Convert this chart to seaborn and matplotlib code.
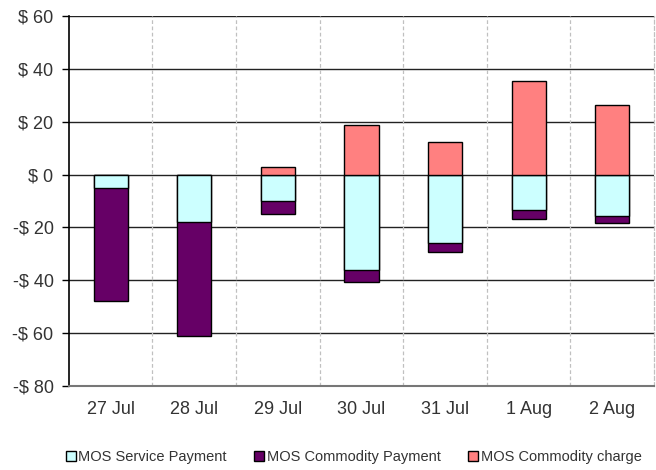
import numpy as np
import pandas as pd
import matplotlib
matplotlib.use('Agg')
import matplotlib.pyplot as plt
import seaborn as sns

# ---------------  Data  ------------
days = ['27 Jul', '28 Jul', '29 Jul', '30 Jul', '31 Jul', '1 Aug', '2 Aug']
service_payment = [-5.0, -18.0, -10.0, -36.0, -26.0, -13.5, -15.7]
commodity_payment = [-42.7, -43.0, -5.0, -4.5, -3.2, -3.2, -2.7]
commodity_charge = [0.0, 0.0, 2.8, 18.8, 12.3, 35.5, 26.3]

df = pd.DataFrame({'day': days,
                   'service': service_payment,
                   'commodity': commodity_payment,
                   'charge': commodity_charge})
# payment stacks below the service bar, so draw the total first
df['payment_total'] = df['service'] + df['commodity']

c_service = '#CCFFFF'
c_payment = '#660066'
c_charge = '#FF8080'

sns.set_style('white')
plt.rcParams['font.family'] = ['Liberation Sans', 'DejaVu Sans']

fig, ax = plt.subplots(figsize=(6.56, 4.70), dpi=100)
fig.subplots_adjust(left=0.105, right=0.997, top=0.966, bottom=0.179)

bar_kw = dict(width=0.41, edgecolor='black', linewidth=1.0, ax=ax, order=days,
              saturation=1)
sns.barplot(data=df, x='day', y='payment_total', color=c_payment, **bar_kw)
sns.barplot(data=df, x='day', y='service', color=c_service, **bar_kw)
charged = df[df['charge'] > 0]
sns.barplot(data=charged, x='day', y='charge', color=c_charge, **bar_kw)

# ---------------  Axes styling  ------------
ax.set_ylim(-80, 60)
ax.set_xlim(-0.5, len(days) - 0.5)
ax.set_yticks(np.arange(-80, 61, 20))
ax.set_yticklabels([('-$ %d' % -v) if v < 0 else ('$ %d' % v) for v in range(-80, 61, 20)])
ax.set_xlabel('')
ax.set_ylabel('')

for v in range(-60, 61, 20):
    ax.axhline(v, color='#222222', lw=1.0, zorder=0)
for b in np.arange(0.5, len(days) - 0.5, 1.0):
    ax.axvline(b, color='#c0c0c0', lw=0.9, ls=(0, (3, 2)), zorder=0)

ax.spines['top'].set_visible(False)
ax.spines['right'].set_color('#c0c0c0')
ax.spines['right'].set_linestyle((0, (3, 2)))
ax.spines['right'].set_linewidth(0.9)
ax.spines['left'].set_color('black')
ax.spines['left'].set_linewidth(1.2)
ax.spines['bottom'].set_color('#777777')
ax.spines['bottom'].set_linewidth(1.5)

ax.tick_params(axis='y', direction='out', length=5, width=1, color='black',
               labelsize=13, labelcolor='#333333', left=True, pad=6)
ax.tick_params(axis='x', length=0, labelsize=13, labelcolor='#333333', pad=11)

# ---------------  Legend  ------------
handles = [plt.Rectangle((0, 0), 1, 1, facecolor=c, edgecolor='black', linewidth=1)
           for c in (c_service, c_payment, c_charge)]
labels = ['MOS Service Payment', 'MOS Commodity Payment', 'MOS Commodity charge']
fig.legend(handles, labels, loc='center', bbox_to_anchor=(0.539, 0.028), ncol=3,
           frameon=False, fontsize=10.5, handlelength=0.7, handleheight=0.7,
           handletextpad=0.15, columnspacing=1.9, labelcolor='#333333')

fig.savefig('out.png', dpi=100)
